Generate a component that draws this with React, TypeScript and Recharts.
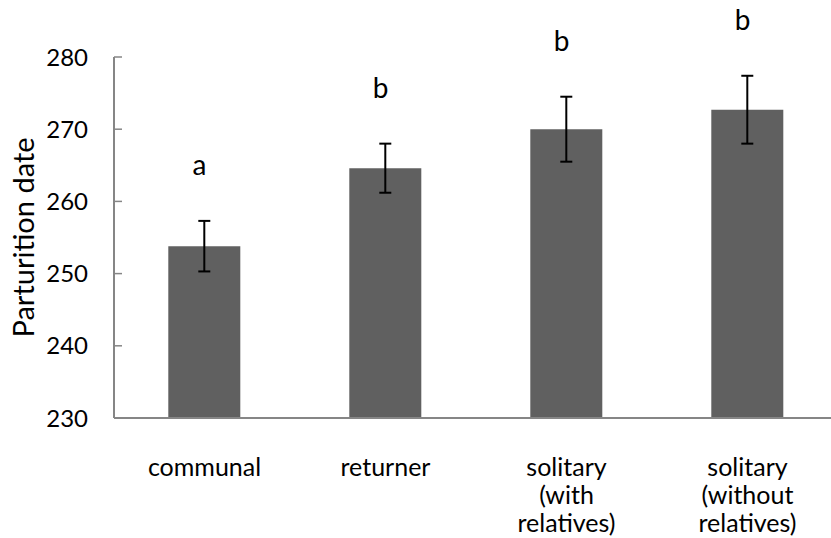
import { ComposedChart, Bar, ErrorBar, Scatter, XAxis, YAxis, Label } from "recharts"

const groups = ["communal", "returner", "solitary\n(with\nrelatives)", "solitary\n(without\nrelatives)"]
const means = [253.8, 264.6, 270.0, 272.7]
const errors = [3.5, 3.4, 4.5, 4.7]
const letters = ["a", "b", "b", "b"]
const yTicks = [230, 240, 250, 260, 270, 280]
const boundaryTicks = [1, 2, 3]

// letters sit a fixed distance above the top of each error bar
const data = groups.map((g, i) => ({
  group: g,
  mean: means[i],
  err: errors[i],
  letter: letters[i],
  errTop: means[i] + errors[i],
}))

const FONT = "Lato, 'Open Sans', sans-serif"

function GroupTick(props: any) {
  const { x, y, payload } = props
  const lines = String(payload.value).split("\n")
  return (
    <g>
      {lines.map((line: string, i: number) => (
        <text key={i} x={x} y={y + 50 + i * 28} textAnchor="middle" fontSize={25} fill="#000" fontFamily={FONT}>
          {line}
        </text>
      ))}
    </g>
  )
}

function LetterShape(props: any) {
  const { cx, cy, payload } = props
  return (
    <text x={cx - 5} y={cy - 57} textAnchor="middle" dominantBaseline="central" fontSize={28} fill="#000" fontFamily={FONT}>
      {payload.letter}
    </text>
  )
}

export default function App() {
  return (
    <div style={{ position: "absolute", left: 0, top: 0, width: 831, height: 538, overflow: "hidden", background: "#fff" }}>
      <ComposedChart width={840} height={538} data={data} margin={{ top: 57, right: 2, bottom: 0, left: 0 }} barCategoryGap="30%">
        <XAxis
          xAxisId="bounds"
          type="number"
          domain={[0, 4]}
          ticks={boundaryTicks}
          tick={false}
          tickSize={-6}
          axisLine={false}
          tickLine={{ stroke: "#868686", strokeWidth: 1.5 }}
          height={0}
          allowDataOverflow
        />
        <XAxis
          xAxisId="cat"
          dataKey="group"
          tickLine={false}
          axisLine={{ stroke: "#868686", strokeWidth: 2 }}
          tick={<GroupTick />}
          height={120}
          interval={0}
        />
        <YAxis
          domain={[230, 280]}
          ticks={yTicks}
          width={114}
          tickSize={-8}
          tickMargin={34}
          axisLine={{ stroke: "#868686", strokeWidth: 2 }}
          tickLine={{ stroke: "#868686", strokeWidth: 1.5 }}
          tick={{ fontSize: 24, fill: "#000", fontFamily: FONT }}
        >
          <Label
            value="Parturition date"
            angle={-90}
            position="insideLeft"
            offset={24}
            style={{ textAnchor: "middle", fontSize: 29, fill: "#000", fontFamily: FONT }}
          />
        </YAxis>
        <Bar xAxisId="cat" dataKey="mean" fill="#606060" isAnimationActive={false}>
          <ErrorBar dataKey="err" width={6} stroke="#000" strokeWidth={2} direction="y" />
        </Bar>
        <Scatter xAxisId="cat" dataKey="errTop" shape={<LetterShape />} isAnimationActive={false} />
      </ComposedChart>
    </div>
  )
}
